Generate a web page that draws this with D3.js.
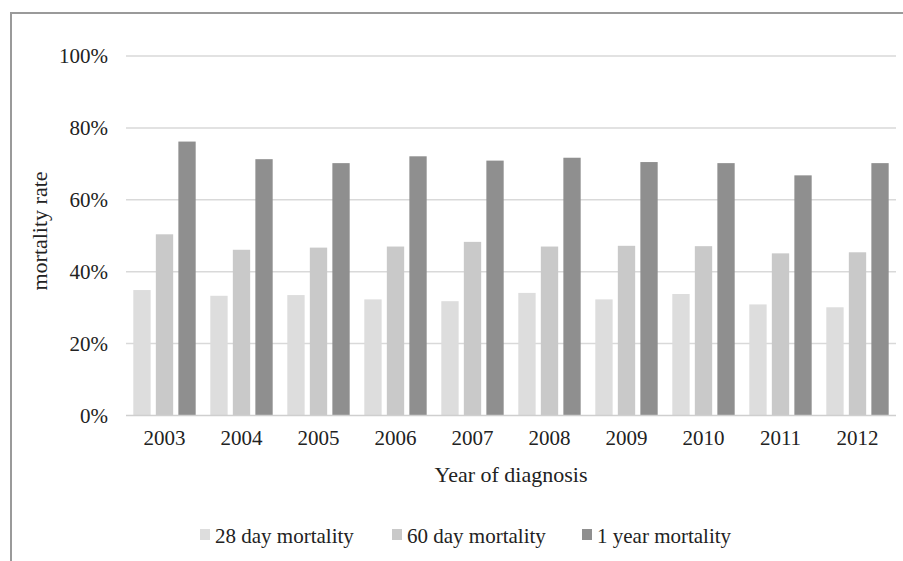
<!DOCTYPE html>
<html>
<head>
<meta charset="utf-8">
<script src="https://cdn.jsdelivr.net/npm/d3@7"></script>
<style>
  html, body { margin: 0; padding: 0; background: #fff; }
  svg { display: block; }
  text { font-family: "Liberation Serif", "Times New Roman", serif; fill: #222; }
</style>
</head>
<body>
<svg id="chart" width="903" height="561"></svg>
<script>
// Mortality rates by year of diagnosis
const years = ["2003", "2004", "2005", "2006", "2007", "2008", "2009", "2010", "2011", "2012"];
const seriesNames = ["28 day mortality", "60 day mortality", "1 year mortality"];
const mortality28 = [0.349, 0.333, 0.335, 0.323, 0.318, 0.341, 0.323, 0.338, 0.309, 0.301];
const mortality60 = [0.504, 0.461, 0.467, 0.470, 0.483, 0.470, 0.472, 0.471, 0.451, 0.454];
const mortality1y = [0.762, 0.713, 0.702, 0.721, 0.709, 0.717, 0.705, 0.702, 0.668, 0.702];
const yTicks = [0, 0.2, 0.4, 0.6, 0.8, 1.0];
const colors = ["#dddddd", "#c9c9c9", "#8f8f8f"];

const seriesValues = [mortality28, mortality60, mortality1y];
const rows = years.map((yr, i) => ({ year: yr, values: seriesValues.map(s => s[i]) }));

const svg = d3.select("#chart");
const plot = { left: 126, right: 896, top: 56, bottom: 415.5 };

// outer frame (runs off the right and bottom edges)
svg.append("path")
  .attr("d", `M11,561 V13 H903`)
  .attr("fill", "none")
  .attr("stroke", "#9a9a9a")
  .attr("stroke-width", 2);

const x0 = d3.scaleBand()
  .domain(years)
  .range([plot.left, plot.right])
  .paddingInner(0.19)
  .paddingOuter(0.095);

const x1 = d3.scaleBand()
  .domain(d3.range(seriesNames.length))
  .range([0, x0.bandwidth()])
  .paddingInner(0.231);

const y = d3.scaleLinear().domain([0, 1]).range([plot.bottom, plot.top]);

// horizontal gridlines
svg.append("g")
  .selectAll("line")
  .data(yTicks.filter(t => t > 0))
  .join("line")
  .attr("x1", plot.left).attr("x2", plot.right)
  .attr("y1", d => y(d)).attr("y2", d => y(d))
  .attr("stroke", "#d9d9d9")
  .attr("stroke-width", 1.5);

// y axis labels
const yAxis = d3.axisLeft(y).tickValues(yTicks).tickFormat(d3.format(".0%")).tickSize(0).tickPadding(18);
const gy = svg.append("g").attr("transform", `translate(${plot.left},0)`).call(yAxis);
gy.select(".domain").remove();
gy.selectAll("text")
  .attr("font-size", 21)
  .attr("font-family", "Liberation Serif, Times New Roman, serif")
  .attr("fill", "#222");

// bars
const groups = svg.append("g")
  .selectAll("g")
  .data(rows)
  .join("g")
  .attr("transform", d => `translate(${x0(d.year)},0)`);

groups.selectAll("rect")
  .data(d => d.values.map((v, k) => ({ k, v })))
  .join("rect")
  .attr("x", d => x1(d.k))
  .attr("width", x1.bandwidth())
  .attr("y", d => y(d.v))
  .attr("height", d => y(0) - y(d.v))
  .attr("fill", d => colors[d.k]);

// x axis
const xAxis = d3.axisBottom(x0).tickSize(0).tickPadding(15);
const gx = svg.append("g").attr("transform", `translate(0,${plot.bottom})`).call(xAxis);
gx.select(".domain").attr("stroke", "#cfcfcf").attr("stroke-width", 1.5)
  .attr("d", `M${plot.left},0H${plot.right}`);
gx.selectAll("text")
  .attr("font-size", 21)
  .attr("font-family", "Liberation Serif, Times New Roman, serif")
  .attr("fill", "#222");

// axis titles
svg.append("text")
  .attr("x", 511).attr("y", 482)
  .attr("text-anchor", "middle")
  .attr("font-size", 22)
  .text("Year of diagnosis");

svg.append("text")
  .attr("transform", `translate(47,231) rotate(-90)`)
  .attr("text-anchor", "middle")
  .attr("font-size", 22)
  .text("mortality rate");

// legend
const legendX = [200, 392, 582];
const legend = svg.append("g")
  .selectAll("g")
  .data(seriesNames)
  .join("g")
  .attr("transform", (d, i) => `translate(${legendX[i]},529)`);
legend.append("rect")
  .attr("width", 10).attr("height", 11)
  .attr("fill", (d, i) => colors[i]);
legend.append("text")
  .attr("x", 15).attr("y", 14)
  .attr("font-size", 21)
  .text(d => d);
</script>
</body>
</html>
